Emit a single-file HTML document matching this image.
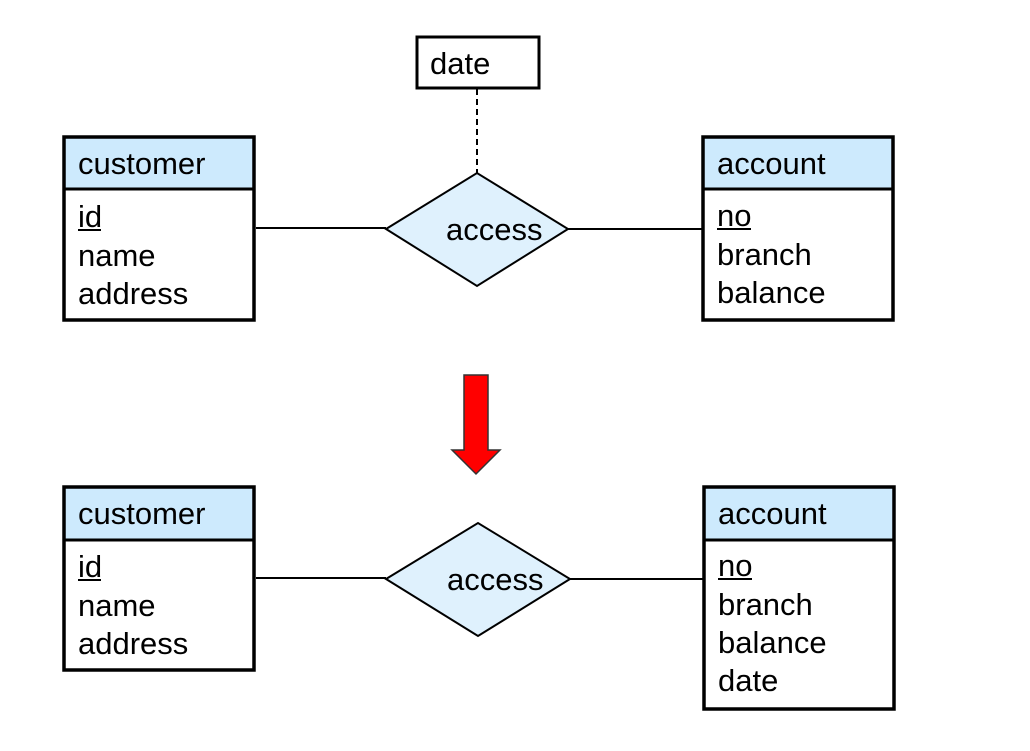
<!DOCTYPE html>
<html><head><style>
html,body{margin:0;padding:0;background:#fff;}
svg text{font-family:"Liberation Sans",Arial,sans-serif;font-size:31px;fill:#000;}
</style></head><body>
<svg width="1030" height="746" viewBox="0 0 1030 746" xmlns="http://www.w3.org/2000/svg">
<!-- TOP -->
<rect x="417" y="37" width="122" height="51" fill="#fff" stroke="#000" stroke-width="3"/>
<text x="430" y="74">date</text>
<line x1="477" y1="89" x2="477" y2="173" stroke="#000" stroke-width="2" stroke-dasharray="6,4"/>

<rect x="64" y="137" width="190" height="52" fill="#cdeafd"/>
<rect x="64" y="137" width="190" height="183" fill="none" stroke="#000" stroke-width="3.5"/>
<line x1="64" y1="189" x2="254" y2="189" stroke="#000" stroke-width="3"/>
<text x="78" y="174">customer</text>
<text x="78" y="227">id</text>
<line x1="78" y1="230" x2="101" y2="230" stroke="#000" stroke-width="2"/>
<text x="78" y="266">name</text>
<text x="78" y="304">address</text>

<line x1="256" y1="228" x2="386" y2="228" stroke="#000" stroke-width="2"/>
<polygon points="386,229 477,173 568,229 477,286" fill="#dff1fd" stroke="#000" stroke-width="2"/>
<text x="446" y="240">access</text>
<line x1="568" y1="229" x2="702" y2="229" stroke="#000" stroke-width="2"/>

<rect x="703" y="137" width="190" height="52" fill="#cdeafd"/>
<rect x="703" y="137" width="190" height="183" fill="none" stroke="#000" stroke-width="3.5"/>
<line x1="703" y1="189" x2="893" y2="189" stroke="#000" stroke-width="3"/>
<text x="717" y="174">account</text>
<text x="717" y="226">no</text>
<line x1="717" y1="229" x2="751" y2="229" stroke="#000" stroke-width="2"/>
<text x="717" y="265">branch</text>
<text x="717" y="303">balance</text>

<!-- ARROW -->
<polygon points="464,375 488,375 488,450 500,450 476,474 452,450 464,450" fill="#ff0000" stroke="#333" stroke-width="1.5"/>

<!-- BOTTOM -->
<rect x="64" y="487" width="190" height="52" fill="#cdeafd"/>
<rect x="64" y="487" width="190" height="183" fill="none" stroke="#000" stroke-width="3.5"/>
<line x1="64" y1="540" x2="254" y2="540" stroke="#000" stroke-width="3"/>
<text x="78" y="524">customer</text>
<text x="78" y="577">id</text>
<line x1="78" y1="580" x2="101" y2="580" stroke="#000" stroke-width="2"/>
<text x="78" y="616">name</text>
<text x="78" y="654">address</text>

<line x1="256" y1="578" x2="386" y2="578" stroke="#000" stroke-width="2"/>
<polygon points="386,579 478,523 570,579 478,636" fill="#dff1fd" stroke="#000" stroke-width="2"/>
<text x="447" y="590">access</text>
<line x1="570" y1="579" x2="703" y2="579" stroke="#000" stroke-width="2"/>

<rect x="704" y="487" width="190" height="53" fill="#cdeafd"/>
<rect x="704" y="487" width="190" height="222" fill="none" stroke="#000" stroke-width="3.5"/>
<line x1="704" y1="540" x2="894" y2="540" stroke="#000" stroke-width="3"/>
<text x="718" y="524">account</text>
<text x="718" y="576">no</text>
<line x1="718" y1="579" x2="752" y2="579" stroke="#000" stroke-width="2"/>
<text x="718" y="615">branch</text>
<text x="718" y="653">balance</text>
<text x="718" y="691">date</text>
</svg>
</body></html>
